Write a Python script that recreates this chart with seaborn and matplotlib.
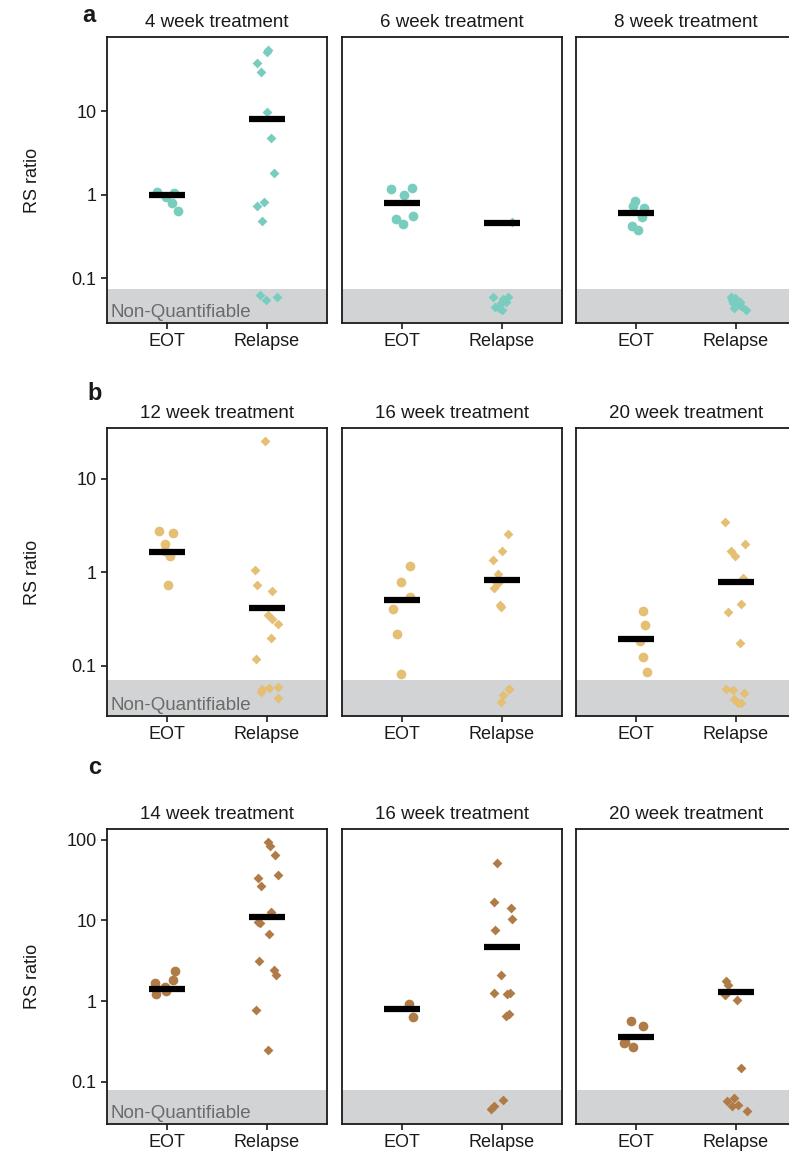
import numpy as np
import pandas as pd
import matplotlib.pyplot as plt
import seaborn as sns

sns.set_theme(style='ticks')
plt.rcParams['font.family'] = ['Liberation Sans', 'DejaVu Sans']

groups = ['EOT', 'Relapse']
row_letters = ['a', 'b', 'c']
titles = [['4 week treatment', '6 week treatment', '8 week treatment'],
          ['12 week treatment', '16 week treatment', '20 week treatment'],
          ['14 week treatment', '16 week treatment', '20 week treatment']]
row_colors = ['#78CDBE', '#E4BF74', '#B07B47']
nq_limit = [0.074, 0.070, 0.079]
y_limits = [(0.029, 77), (0.029, 35), (0.030, 136)]
y_ticks = [[0.1, 1, 10], [0.1, 1, 10], [0.1, 1, 10, 100]]
y_ticklabels = [['0.1', '1', '10'], ['0.1', '1', '10'], ['0.1', '1', '10', '100']]

# row a
eot_a = [[1.08, 1.03, 0.93, 0.79, 0.64],
         [1.2, 1.18, 1.0, 0.56, 0.51, 0.45],
         [0.83, 0.72, 0.70, 0.535, 0.425, 0.38]]
rel_a = [[54, 51, 38, 29.5, 9.7, 4.7, 1.82, 0.81, 0.72, 0.48, 0.060, 0.063, 0.055],
         [0.47, 0.060, 0.0555, 0.059, 0.052, 0.050, 0.0455, 0.041, 0.0435],
         [0.060, 0.057, 0.055, 0.052, 0.050, 0.048, 0.046, 0.044, 0.042]]
med_a = [[1.0, 8.0], [0.80, 0.46], [0.60, None]]

# row b
eot_b = [[2.8, 2.65, 2.0, 1.68, 1.49, 0.74],
         [1.18, 0.79, 0.54, 0.40, 0.22, 0.082],
         [0.39, 0.275, 0.185, 0.123, 0.085]]
rel_b = [[25.3, 1.07, 0.73, 0.625, 0.35, 0.32, 0.28, 0.20, 0.118, 0.057, 0.058, 0.0526, 0.0447, 0.0595],
         [2.54, 1.68, 1.35, 0.97, 0.76, 0.76, 0.68, 0.45, 0.43, 0.057, 0.057, 0.049, 0.041],
         [3.44, 2.03, 1.71, 1.49, 0.87, 0.46, 0.376, 0.175, 0.057, 0.055, 0.0505, 0.0436, 0.040, 0.040]]
med_b = [[1.63, 0.42], [0.505, 0.835], [0.194, 0.79]]

# row c
eot_c = [[2.37, 1.81, 1.70, 1.50, 1.32, 1.21],
         [0.91, 0.64],
         [0.574, 0.488, 0.31, 0.30, 0.267]]
rel_c = [[93, 83, 64, 36.7, 33.4, 26.8, 12.6, 9.6, 9.2, 6.7, 3.13, 2.45, 2.08, 0.77, 0.25],
         [52, 17, 14.4, 10.4, 7.7, 2.13, 1.21, 1.27, 1.27, 0.66, 0.70, 0.060, 0.050, 0.046],
         [1.76, 1.57, 1.18, 1.02, 0.15, 0.063, 0.0575, 0.050, 0.052, 0.043]]
med_c = [[1.41, 11.1], [0.79, 4.69], [0.356, 1.29]]

eot_all = [eot_a, eot_b, eot_c]
rel_all = [rel_a, rel_b, rel_c]
med_all = [med_a, med_b, med_c]

# layout in pixels
W, H = 789, 1156
col_left = [107, 342, 576]
col_w = 220
row_top = [37, 428, 829]
row_bot = [323, 716, 1124]
letter_pos = [(89, 16), (95, 393), (95, 768)]
ink = '#1a1a1a'

np.random.seed(7)
fig = plt.figure(figsize=(W / 100, H / 100), dpi=100)

for r in range(3):
    for c in range(3):
        ax = fig.add_axes([col_left[c] / W, 1 - row_bot[r] / H,
                           col_w / W, (row_bot[r] - row_top[r]) / H])
        ax.axhspan(y_limits[r][0], nq_limit[r], color='#D1D3D5', lw=0, zorder=0)

        eot = eot_all[r][c]
        rel = rel_all[r][c]
        sns.stripplot(x=['EOT'] * len(eot), y=eot, order=groups, ax=ax,
                      color=row_colors[r], marker='o', size=7, jitter=0.12,
                      linewidth=0, log_scale=True, zorder=2)
        sns.stripplot(x=['Relapse'] * len(rel), y=rel, order=groups, ax=ax,
                      color=row_colors[r], marker='D', size=5, jitter=0.12,
                      linewidth=0, log_scale=True, zorder=2)

        # median of quantifiable values
        for i, m in enumerate(med_all[r][c]):
            if m is not None:
                ax.hlines(m, i - 0.18, i + 0.18, color='black', lw=4.5, zorder=3)

        ax.set_yscale('log')
        ax.set_ylim(*y_limits[r])
        ax.set_xlim(-0.6, 1.6)
        ax.minorticks_off()
        ax.set_xlabel('')
        ax.set_ylabel('')
        ax.set_title(titles[r][c], fontsize=13.5, pad=7, color=ink)
        ax.tick_params(axis='x', labelsize=13, length=4, width=1.2,
                       color=ink, labelcolor=ink)
        for s in ax.spines.values():
            s.set_visible(True)
            s.set_linewidth(1.3)
            s.set_color(ink)

        if c == 0:
            ax.set_yticks(y_ticks[r])
            ax.set_yticklabels(y_ticklabels[r])
            ax.tick_params(axis='y', labelsize=13, length=4, width=1.2,
                           color=ink, labelcolor=ink)
            ax.set_ylabel('RS ratio', fontsize=13, color=ink)
            ax.yaxis.set_label_coords(-0.30, 0.5)
            ax.text(0.015, 0.022, 'Non-Quantifiable', transform=ax.transAxes,
                    color='#6b6b6b', fontsize=13.5, va='baseline', ha='left')
        else:
            ax.set_yticks([])

    fig.text(letter_pos[r][0] / W, 1 - letter_pos[r][1] / H, row_letters[r],
             fontsize=17, fontweight='bold', ha='center', va='center', color=ink)

plt.savefig('out.png', dpi=100)
